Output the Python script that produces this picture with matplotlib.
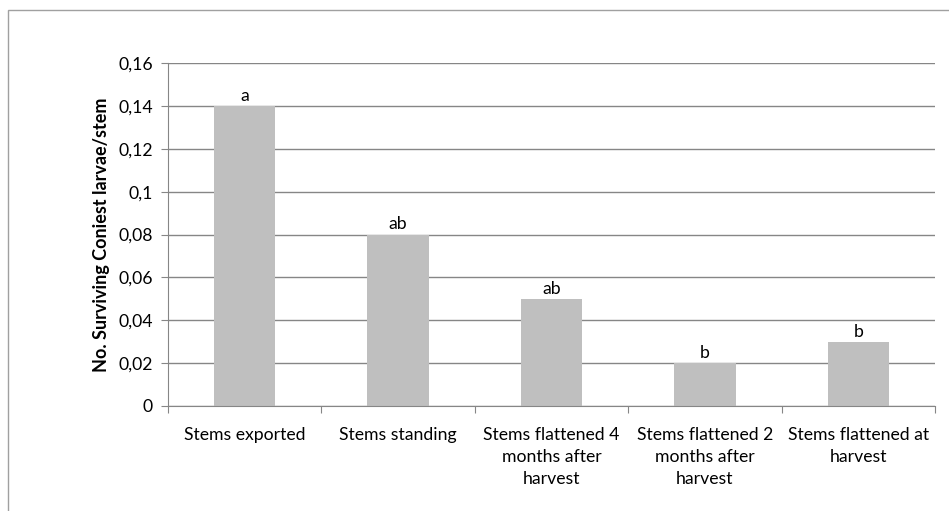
import matplotlib.pyplot as plt
from matplotlib.patches import Rectangle

plt.rcParams['font.family'] = ['Lato', 'DejaVu Sans']

categories = ['Stems exported', 'Stems standing', 'Stems flattened 4\nmonths after\nharvest',
              'Stems flattened 2\nmonths after\nharvest', 'Stems flattened at\nharvest']
values = [0.14, 0.08, 0.05, 0.02, 0.03]
letters = ['a', 'ab', 'ab', 'b', 'b']
yticks = [0, 0.02, 0.04, 0.06, 0.08, 0.1, 0.12, 0.14, 0.16]
ytick_labels = ['0', '0,02', '0,04', '0,06', '0,08', '0,1', '0,12', '0,14', '0,16']

fs = 12.7
fig = plt.figure(figsize=(9.49, 5.11), dpi=100)
# outer chart border
fig.patches.append(Rectangle((8 / 949, -0.01), 1.0, 1 - 10 / 511 + 0.01, transform=fig.transFigure,
                             fill=False, edgecolor='#A0A0A0', linewidth=1))
ax = fig.add_axes([168 / 949, 1 - 406 / 511, (935 - 168) / 949, (406 - 63) / 511])

x = range(len(categories))
ax.bar(x, values, width=0.4, color='#BFBFBF', zorder=2)
for i, (v, t) in enumerate(zip(values, letters)):
    ax.text(i, v + 0.001, t, ha='center', va='bottom', fontsize=fs)

ax.set_xlim(-0.5, len(categories) - 0.5)
ax.set_ylim(0, 0.16)
ax.set_yticks(yticks)
ax.set_yticklabels(ytick_labels, fontsize=fs)
ax.set_xticks([i + 0.5 for i in range(-1, len(categories))], minor=False)
ax.set_xticklabels([])
ax.set_xticks(list(x), minor=True)
ax.set_xticklabels(categories, minor=True, fontsize=fs, va='top', linespacing=1.45)
ax.tick_params(axis='x', which='minor', length=0, pad=15)
ax.tick_params(axis='x', which='major', length=5, color='#868686')
ax.tick_params(axis='y', length=5, color='#868686', pad=6)
ax.grid(axis='y', color='#868686', linewidth=1, zorder=0)
for s in ['top', 'right']:
    ax.spines[s].set_visible(False)
for s in ['left', 'bottom']:
    ax.spines[s].set_color('#868686')
ax.set_ylabel('No. Surviving Coniest larvae/stem', fontsize=13, fontweight='bold', labelpad=6)

fig.savefig('out.png', dpi=100)
